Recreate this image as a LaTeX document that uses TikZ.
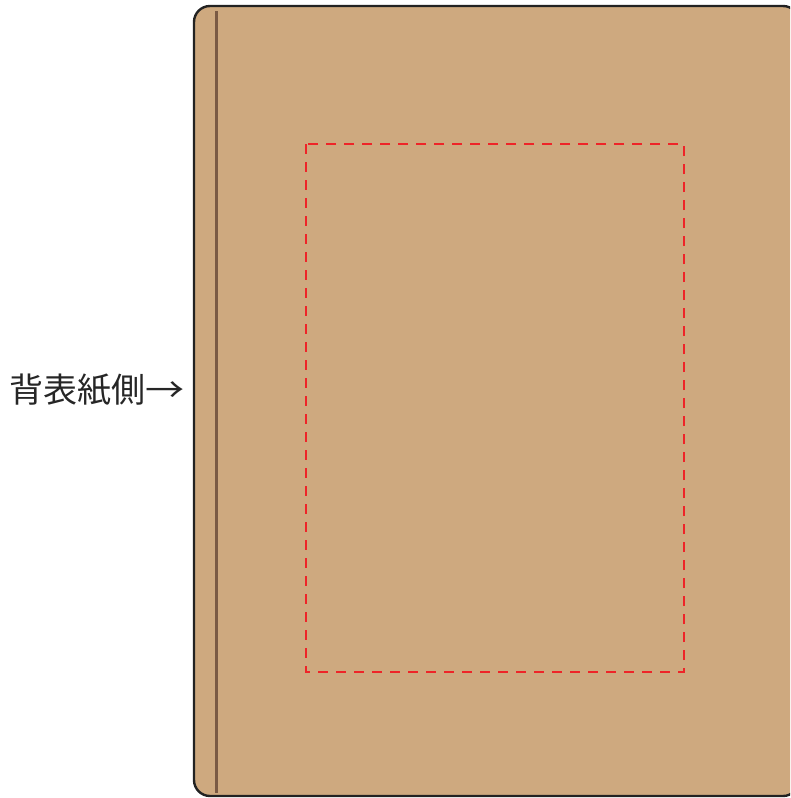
\documentclass[tikz,border=0pt]{standalone}
\usepackage{fontspec}
\newfontfamily\cjk{Noto Sans CJK JP}
\definecolor{board}{HTML}{CEA97F}
\definecolor{spine}{HTML}{7A5A44}
\definecolor{edge}{HTML}{222222}
\definecolor{mark}{HTML}{EE2428}
\tikzset{
  cover/.style={fill=board, draw=edge, line width=2.4pt, rounded corners=16pt},
  spineline/.style={draw=spine, line width=3pt},
  area/.style={draw=mark, line width=2.8pt, dash pattern=on 10pt off 8pt},
  lbl/.style={font=\cjk\fontsize{34}{34}\selectfont, text=black!85, inner sep=0pt, anchor=west}
}
\begin{document}
\begin{tikzpicture}[x=1pt,y=-1pt]
\useasboundingbox (0,0) rectangle (790,798);
\begin{scope}
\clip (0,0) rectangle (790,798);
\draw[cover] (194,6) rectangle (799,796);
\coordinate (s1) at (216.5,11);
\coordinate (s2) at (216.5,793);
\draw[spineline] (s1) -- (s2);
\draw[area] (306,144) rectangle (684,672);
\end{scope}
\node[lbl] (label) at (9,390) {背表紙側\scalebox{1.15}[1]{→}};
\end{tikzpicture}
\end{document}
